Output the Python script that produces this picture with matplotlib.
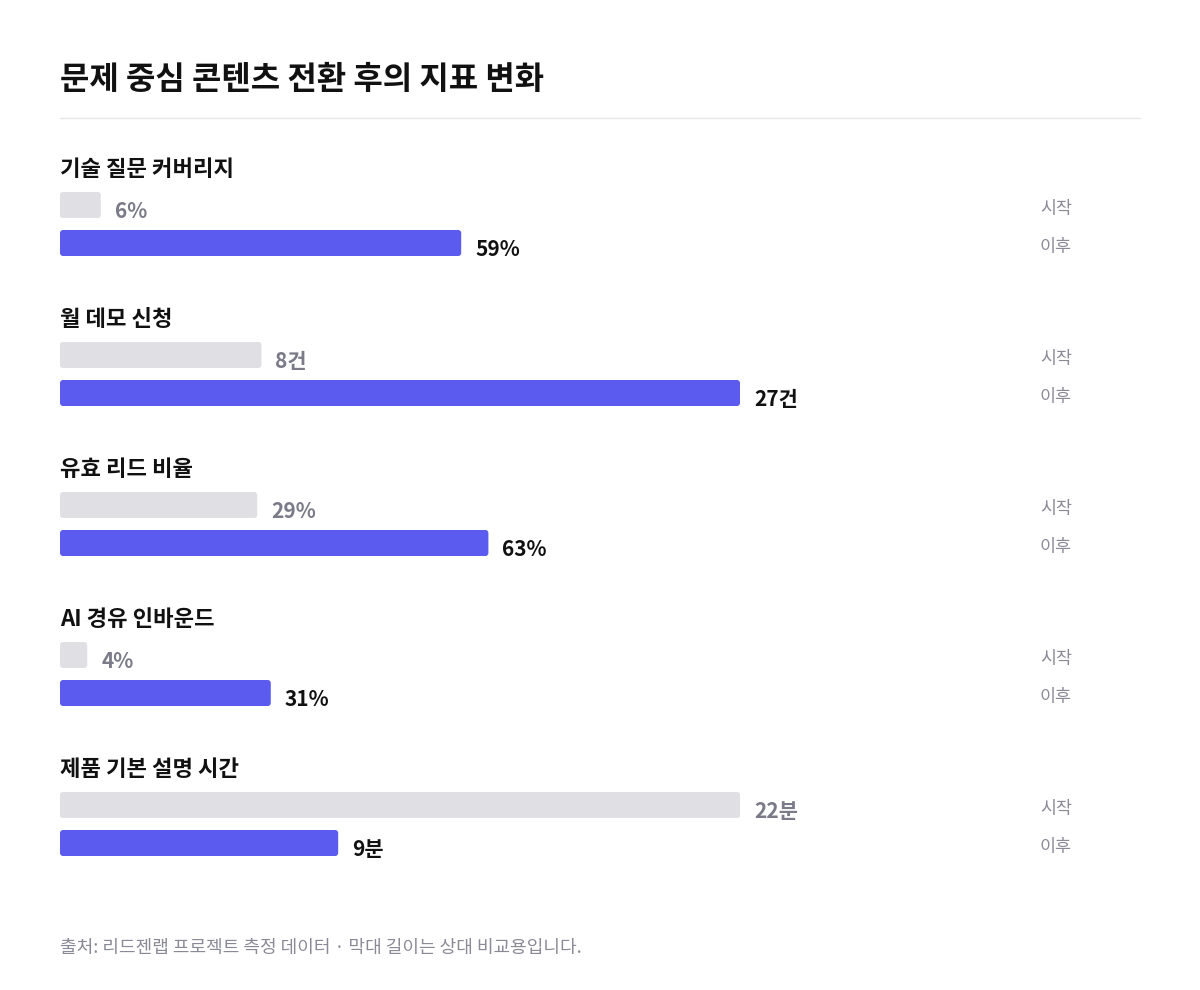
import matplotlib.pyplot as plt
from matplotlib.patches import FancyBboxPatch

plt.rcParams['font.family'] = ['Noto Sans CJK KR', 'DejaVu Sans']

title = "문제 중심 콘텐츠 전환 후의 지표 변화"
metrics = ["기술 질문 커버리지", "월 데모 신청", "유효 리드 비율", "AI 경유 인바운드", "제품 기본 설명 시간"]
before = [6, 8, 29, 4, 22]
after = [59, 27, 63, 31, 9]
units = ["%", "건", "%", "%", "분"]
scale_max = [100, 27, 100, 100, 22]
footer = "출처: 리드젠랩 프로젝트 측정 데이터 · 막대 길이는 상대 비교용입니다."

GRAY = "#e0dfe4"
BLUE = "#5b5bef"
W, H = 1200, 990
x0, full = 60, 680

fig = plt.figure(figsize=(12, 9.9), dpi=100)
ax = fig.add_axes([0, 0, 1, 1])
ax.set_xlim(0, W)
ax.set_ylim(H, 0)
ax.axis('off')

ax.text(x0, 80, title, fontsize=23, fontweight='bold', color='#111111', va='center')
ax.plot([x0, 1140], [118, 118], color='#e6e6ea', lw=1)

def bar(y, w, color):
    ax.add_patch(FancyBboxPatch((x0, y), max(w, 1), 26, boxstyle="round,pad=0,rounding_size=3",
                                fc=color, ec='none'))

for i, name in enumerate(metrics):
    top = 170 + i * 150
    ax.text(x0, top, name, fontsize=16, fontweight='bold', color='#111111', va='center')
    rows = [(before[i], GRAY, '#7a7a88', "시작"), (after[i], BLUE, '#111111', "이후")]
    for j, (v, c, tc, lab) in enumerate(rows):
        y = top + 22 + j * 38
        w = v / scale_max[i] * full
        bar(y, w, c)
        ax.text(x0 + w + 14, y + 20, f"{v}{units[i]}", fontsize=15, fontweight='bold',
                color=tc, va='center')
        ax.text(1040, y + 17, lab, fontsize=12.5, color='#8a8a96', va='center')

ax.text(x0, 948, footer, fontsize=13, color='#8a8a96', va='center')

fig.savefig("out.png", dpi=100, facecolor='white')
